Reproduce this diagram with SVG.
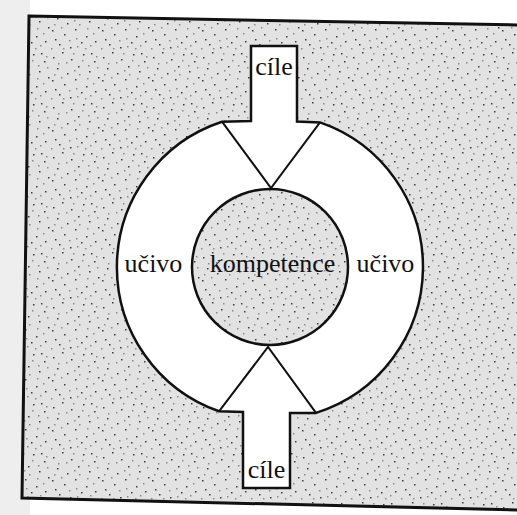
<svg xmlns="http://www.w3.org/2000/svg" width="517" height="515" viewBox="0 0 517 515">
  <defs>
    <pattern id="stipple" width="50" height="50" patternUnits="userSpaceOnUse">
      <rect width="50" height="50" fill="#e2e2e2"/>
      <g fill="#3a3a3a">
        <rect x="3" y="7" width="1.5" height="1.5"/><rect x="12" y="2" width="1.5" height="1.5"/>
        <rect x="21" y="9" width="1.5" height="1.5"/><rect x="33" y="4" width="1.5" height="1.5"/>
        <rect x="44" y="11" width="1.5" height="1.5"/><rect x="7" y="18" width="1.5" height="1.5"/>
        <rect x="17" y="23" width="1.5" height="1.5"/><rect x="28" y="16" width="1.5" height="1.5"/>
        <rect x="39" y="21" width="1.5" height="1.5"/><rect x="48" y="27" width="1.5" height="1.5"/>
        <rect x="2" y="30" width="1.5" height="1.5"/><rect x="14" y="34" width="1.5" height="1.5"/>
        <rect x="25" y="29" width="1.5" height="1.5"/><rect x="36" y="36" width="1.5" height="1.5"/>
        <rect x="45" y="41" width="1.5" height="1.5"/><rect x="9" y="44" width="1.5" height="1.5"/>
        <rect x="20" y="47" width="1.5" height="1.5"/><rect x="31" y="42" width="1.5" height="1.5"/>
        <rect x="41" y="3" width="1.5" height="1.5"/><rect x="5" y="39" width="1.5" height="1.5"/>
      </g>
      <g fill="#8a8a8a">
        <rect x="26" y="38" width="1.5" height="1.5"/><rect x="16" y="12" width="1.5" height="1.5"/>
        <rect x="37" y="28" width="1.5" height="1.5"/><rect x="47" y="17" width="1.5" height="1.5"/>
        <rect x="11" y="27" width="1.5" height="1.5"/><rect x="23" y="3" width="1.5" height="1.5"/>
        <rect x="35" y="48" width="1.5" height="1.5"/><rect x="43" y="33" width="1.5" height="1.5"/>
        <rect x="1" y="48" width="1.5" height="1.5"/><rect x="29" y="24" width="1.5" height="1.5"/>
        <rect x="19" y="40" width="1.5" height="1.5"/><rect x="40" y="45" width="1.5" height="1.5"/>
        <rect x="8" y="13" width="1.5" height="1.5"/><rect x="32" y="10" width="1.5" height="1.5"/>
        <rect x="46" y="6" width="1.5" height="1.5"/><rect x="13" y="48" width="1.5" height="1.5"/>
        <rect x="24" y="20" width="1.5" height="1.5"/><rect x="38" y="15" width="1.5" height="1.5"/>
        <rect x="4" y="24" width="1.5" height="1.5"/><rect x="27" y="46" width="1.5" height="1.5"/>
      </g>
    </pattern>
  </defs>
  <style>
    .line { stroke: #111; fill: none; stroke-linejoin: miter; }
    .lbl { font-family: "Liberation Serif", "Times New Roman", serif; font-size: 26px; fill: #111; text-anchor: middle; }
  </style>

  <rect width="517" height="515" fill="#ffffff"/>
  <rect x="0" y="0" width="30" height="515" fill="#eeeeee"/>

  <g id="frame">
    <polygon points="29,16 530,25.2 530,510.3 22,498" fill="url(#stipple)" stroke="#111" stroke-width="3"/>
  </g>

  <g id="ring-and-arrows">
    <path d="M222,121.7 L251,121 L251,46 L297,46 L297,121.5 L320,122.4 A153,153 0 0 1 316,412.9 L290,413 L290,488 L243,488 L243,412 L219,411.3 A153,153 0 0 1 222,121.7 Z" fill="#ffffff" stroke="#111" stroke-width="2.5"/>
  </g>

  <g id="kompetence">
    <circle cx="270" cy="267" r="78" fill="url(#stipple)" stroke="#111" stroke-width="2.5"/>
    <text class="lbl" x="272.5" y="272">kompetence</text>
  </g>

  <g id="connectors">
    <path class="line" stroke-width="2" d="M222,121.7 L271,188 L320,122.4"/>
    <path class="line" stroke-width="2" d="M219,411.3 L268,347 L316,412.9"/>
  </g>

  <g id="cile-top">
    <text class="lbl" x="274" y="75">cíle</text>
  </g>
  <g id="cile-bottom">
    <text class="lbl" x="266.5" y="478">cíle</text>
  </g>
  <g id="ucivo-left">
    <text class="lbl" x="153.5" y="272">učivo</text>
  </g>
  <g id="ucivo-right">
    <text class="lbl" x="385.5" y="272">učivo</text>
  </g>
</svg>
